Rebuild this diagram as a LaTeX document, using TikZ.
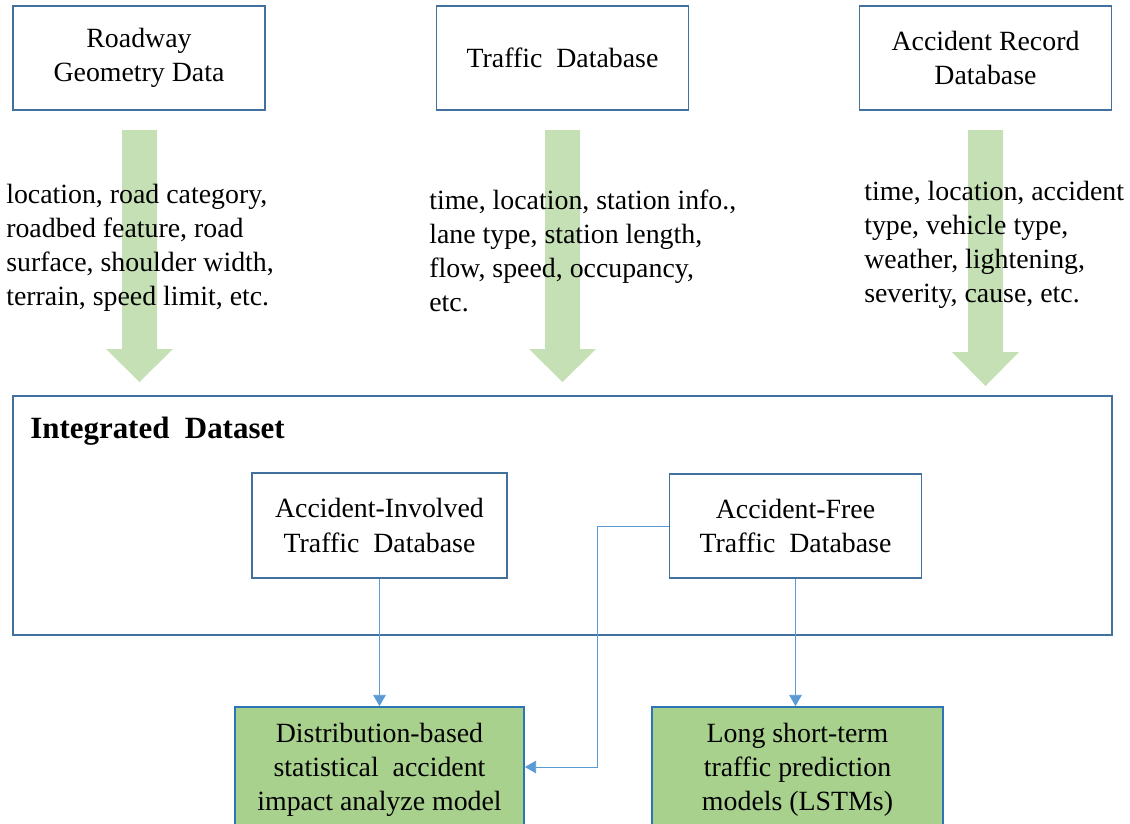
\documentclass[tikz,border=0pt]{standalone}
\usepackage{fontspec}
\setmainfont{Liberation Serif}
\usetikzlibrary{arrows.meta}
\definecolor{boxblue}{HTML}{41719C}
\definecolor{modelblue}{HTML}{2E75B6}
\definecolor{linkblue}{HTML}{5B9BD5}
\definecolor{fatgreen}{HTML}{C5E0B4}
\definecolor{modelgreen}{HTML}{A9D18E}
\def\srcnode{\node[srcbox]}
\def\modelnode{\node[modelbox]}
\def\attrnode{\node[attr]}
\def\drawlink{\draw[link]}
\def\fillfat{\fill[fatgreen]}
\def\txt{\fontsize{19.8}{24.3}\selectfont}

\begin{document}
\begin{tikzpicture}[x=0.025cm,y=-0.025cm,
  srcbox/.style={draw=boxblue,line width=1.2pt,fill=white,inner sep=0pt,
    align=center,font=\txt,minimum width=6.3cm,minimum height=2.6cm},
  modelbox/.style={draw=modelblue,line width=1.2pt,fill=modelgreen,inner sep=0pt,
    align=center,font=\txt,minimum height=3.15cm},
  attr/.style={anchor=west,align=left,inner sep=0pt,font=\txt},
  link/.style={draw=linkblue,line width=0.6pt,-{Triangle[width=9pt,length=8pt]}}]
\clip (0,0) rectangle (1130,823);

% -------- data sources ---------
\srcnode (geom) at (139,58) {Roadway\\ Geometry Data};
\srcnode (traffic) at (562.5,58) {Traffic~ Database};
\srcnode (accrec) at (985.5,58) {Accident Record\\ Database};

% fat green arrows, drawn under the attribute lists
\foreach \cx/\ytop/\yneck/\ytip in {139.5/130/349/382, 562.5/130/349/382, 985.5/130/352/386}
  \fillfat (\cx-17.5,\ytop) -- (\cx+17.5,\ytop) -- (\cx+17.5,\yneck) -- (\cx+33.5,\yneck)
    -- (\cx,\ytip) -- (\cx-33.5,\yneck) -- (\cx-17.5,\yneck) -- cycle;

\attrnode (geomattr) at (6,248) {location, road category,\\ roadbed feature, road\\
  surface, shoulder width,\\ terrain,\ speed limit,\ etc.};
\attrnode (trafattr) at (429,251) {time, location, station info.,\\ lane type, station length,\\
  flow,\ speed, occupancy,\\ etc.};
\attrnode (accattr) at (864,245) {time, location, accident\\ type, vehicle\ type,\\
  weather, lightening,\\ severity, cause, etc.};

% -------- integrated dataset ---------
\node[draw=boxblue,line width=1.2pt,minimum width=27.475cm,minimum height=5.975cm,
  inner sep=0pt] (integ) at (562.5,515.5) {};
\node[anchor=base west,inner sep=0pt,font=\fontsize{22}{26}\selectfont\bfseries] (integlabel)
  at (30,438) {Integrated~ Dataset};
\srcnode[minimum width=6.375cm,minimum height=2.625cm] (ainv) at (379.5,525.5)
  {Accident-Involved\\ Traffic~ Database};
\srcnode[minimum height=2.6cm] (afree) at (795.5,526) {Accident-Free\\ Traffic~ Database};

% -------- models ---------
\modelnode[minimum width=7.225cm] (distmodel) at (379.5,770)
  {Distribution-based\\ statistical~ accident\\ impact analyze model};
\modelnode[minimum width=7.275cm] (lstm) at (797.5,770)
  {Long short-term\\ traffic prediction\\ models (LSTMs)};

\drawlink (ainv) -- (distmodel);
\drawlink (afree.south) -- (afree.south |- lstm.north);
\drawlink (afree.west) -- ++(-71,0) |- ([yshift=0.075cm]distmodel.east);
\end{tikzpicture}
\end{document}
